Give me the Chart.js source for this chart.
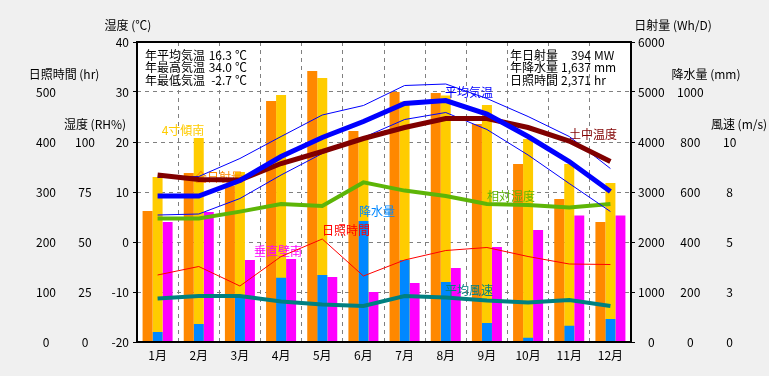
<!DOCTYPE html>
<html>
<head>
<meta charset="utf-8">
<script src="https://cdn.jsdelivr.net/npm/chart.js@4.4.1/dist/chart.umd.min.js"></script>
<style>
  body { margin: 0; background: #f0f0f0; }
  #wrap { width: 769px; height: 376px; }
</style>
</head>
<body>
<div id="wrap"><canvas id="climateChart" width="769" height="376"></canvas></div>
<script>
const months = ['1月', '2月', '3月', '4月', '5月', '6月', '7月', '8月', '9月', '10月', '11月', '12月'];

// 日射量 (Wh/D)
const solarTotal = [2620, 3380, 3130, 4820, 5420, 4220, 5000, 4980, 4360, 3560, 2860, 2400];
const solarTilt = [3300, 4080, 3400, 4940, 5280, 4100, 4810, 4930, 4740, 4060, 3560, 3180];
const solarWall = [2400, 2600, 1640, 1660, 1300, 1000, 1180, 1480, 1900, 2240, 2530, 2530];
// 降水量 (mm)
const rainfall = [40, 72, 181, 257, 268, 484, 328, 240, 76, 17, 65, 92];
// 気温 (℃)
const tempAvg = [9.2, 9.2, 12.3, 17.1, 20.9, 24.1, 27.7, 28.3, 25.6, 21.1, 16.1, 10.1];
const tempMax = [12.9, 13.1, 16.7, 21.1, 25.4, 27.3, 31.3, 31.6, 28.7, 25.1, 21.1, 14.7];
const tempMin = [5.4, 5.6, 8.7, 13.4, 17.7, 20.9, 24.5, 25.9, 22.5, 17.4, 11.7, 6.1];
const soilTemp = [13.4, 12.5, 12.4, 15.7, 18.1, 20.7, 22.9, 24.7, 24.7, 22.9, 20.2, 16.1];
// 相対湿度 (RH%)
const humidity = [61.8, 61.8, 65.2, 69, 68, 79.8, 75.7, 73, 69, 68.5, 67.3, 69];
// 日照時間 (hr)
const sunHours = [134, 151, 112, 171, 206, 132, 164, 183, 189, 171, 156, 155];
// 平均風速 (m/s)
const windSpeed = [2.18, 2.3, 2.3, 2.02, 1.88, 1.8, 2.3, 2.22, 2.07, 1.98, 2.1, 1.8];

// tick labels shown on each axis
const tempTicks = [-20, -10, 0, 10, 20, 30, 40];
const sunTicks = [0, 100, 200, 300, 400, 500];
const humidTicks = [0, 25, 50, 75, 100];
const solarTicks = [0, 1000, 2000, 3000, 4000, 5000, 6000];
const rainTicks = [0, 200, 400, 600, 800, 1000];
const windTicks = [0, 2.5, 5, 7.5, 10];

Chart.defaults.font.family = "'Noto Sans CJK JP', sans-serif";
Chart.defaults.font.size = 12;
Chart.defaults.color = '#000';

// side axis with fixed width and fixed tick list
function sideAxis(position, weight, min, max, tickList, width, opts) {
  return {
    type: 'linear',
    position: position,
    weight: weight,
    min: min,
    max: max,
    stacked: false,
    afterBuildTicks: scale => { scale.ticks = tickList.map(v => ({ value: v })); },
    afterFit: scale => { scale.width = width; },
    ticks: {
      autoSkip: false,
      crossAlign: 'center',
      padding: opts.padding,
      callback: v => String(Math.round(v))
    },
    grid: opts.grid || { display: false, drawTicks: false },
    border: { display: false }
  };
}

function lineSet(label, data, axis, color, width) {
  return {
    type: 'line',
    label: label,
    data: data,
    yAxisID: axis,
    borderColor: color,
    backgroundColor: color,
    borderWidth: width,
    pointRadius: 0,
    tension: 0,
    fill: false
  };
}

function barSet(label, data, axis, color, stack) {
  return {
    type: 'bar',
    label: label,
    data: data,
    yAxisID: axis,
    backgroundColor: color,
    borderWidth: 0,
    stack: stack,
    barPercentage: 1,
    categoryPercentage: 0.729
  };
}

const plotBackground = {
  id: 'plotBackground',
  beforeDraw(chart) {
    const { ctx, chartArea: a } = chart;
    ctx.save();
    ctx.fillStyle = '#fff';
    ctx.fillRect(a.left, a.top, a.right - a.left, a.bottom - a.top);
    ctx.restore();
  }
};

// in-plot series names, drawn over the bars but under the lines
const seriesNames = [
  ['4寸傾南', 183, 130, '#ffcc00'],
  ['全日射量', 219, 177, '#ff8800'],
  ['垂直壁南', 278, 251, '#ff00ff'],
  ['日照時間', 346, 230, '#ff0000'],
  ['降水量', 377, 211, '#0088ff'],
  ['相対湿度', 511, 196, '#5db507'],
  ['平均気温', 469, 92, '#0000ff'],
  ['土中温度', 593, 134, '#800000'],
  ['平均風速', 469, 290, '#008080']
];

const seriesLabels = {
  id: 'seriesLabels',
  afterDatasetDraw(chart, args) {
    if (args.index !== 7) return;
    const ctx = chart.ctx;
    ctx.save();
    ctx.font = "12px 'Noto Sans CJK JP'";
    ctx.textAlign = 'center';
    ctx.textBaseline = 'middle';
    seriesNames.forEach(([t, x, y, c]) => {
      ctx.fillStyle = c;
      ctx.fillText(t, x, y);
    });
    ctx.restore();
  }
};

const frameAndText = {
  id: 'frameAndText',
  afterDraw(chart) {
    const { ctx, chartArea: a } = chart;
    ctx.save();
    ctx.strokeStyle = '#000';
    ctx.lineWidth = 2;
    ctx.strokeRect(a.left, a.top, a.right - a.left, a.bottom - a.top);

    ctx.font = "12px 'Noto Sans CJK JP'";
    ctx.fillStyle = '#000';
    ctx.textBaseline = 'middle';

    // axis titles
    ctx.textAlign = 'center';
    ctx.fillText('湿度 (℃)', 128, 25);
    ctx.fillText('日照時間 (hr)', 64, 74);
    ctx.fillText('湿度 (RH%)', 95, 124);
    ctx.fillText('日射量 (Wh/D)', 673, 25);
    ctx.fillText('降水量 (mm)', 706, 74);
    ctx.fillText('風速 (m/s)', 739, 124);

    // yearly summary boxes
    const rows = [55, 67, 80];
    const left = [['年平均気温', '16.3', '℃'], ['年最高気温', '34.0', '℃'], ['年最低気温', '-2.7', '℃']];
    const right = [['年日射量', '394', 'MW'], ['年降水量', '1,637', 'mm'], ['日照時間', '2,371', 'hr']];
    left.forEach((r, i) => {
      ctx.textAlign = 'left';
      ctx.fillText(r[0], 145, rows[i]);
      ctx.textAlign = 'right';
      ctx.fillText(r[1], 232, rows[i]);
      ctx.textAlign = 'left';
      ctx.fillText(r[2], 235, rows[i]);
    });
    right.forEach((r, i) => {
      ctx.textAlign = 'left';
      ctx.fillText(r[0], 510, rows[i]);
      ctx.textAlign = 'right';
      ctx.fillText(r[1], 591, rows[i]);
      ctx.textAlign = 'left';
      ctx.fillText(r[2], 594, rows[i]);
    });
    ctx.restore();
  }
};

const ctx = document.getElementById('climateChart').getContext('2d');
new Chart(ctx, {
  type: 'bar',
  data: {
    labels: months,
    datasets: [
      lineSet('平均気温', tempAvg, 'yTemp', '#0000ff', 5),
      lineSet('土中温度', soilTemp, 'yTemp', '#800000', 5),
      lineSet('最高気温', tempMax, 'yTemp', '#0000ff', 1),
      lineSet('最低気温', tempMin, 'yTemp', '#0000ff', 1),
      lineSet('相対湿度', humidity, 'yHumid', '#5db507', 4),
      lineSet('日照時間', sunHours, 'ySun', '#ff0000', 1),
      lineSet('平均風速', windSpeed, 'yWind', '#008080', 4),
      barSet('全日射量', solarTotal, 'ySolar', '#ff8800', 'a'),
      barSet('降水量', rainfall, 'yRain', '#0088ff', 'b'),
      barSet('4寸傾南', solarTilt, 'ySolar', '#ffcc00', 'b'),
      barSet('垂直壁南', solarWall, 'ySolar', '#ff00ff', 'c')
    ]
  },
  options: {
    responsive: false,
    animation: false,
    layout: { padding: { top: 42, left: 0, right: 0, bottom: 0 } },
    plugins: { legend: { display: false }, tooltip: { enabled: false } },
    scales: {
      x: {
        offset: true,
        afterFit: scale => { scale.height = 34; },
        ticks: { padding: 6, maxRotation: 0, autoSkip: false },
        grid: { color: '#808080', offset: true, drawTicks: false },
        border: { display: false, dash: [4, 4] }
      },
      yTemp: {
        type: 'linear',
        position: 'left',
        weight: 0,
        min: -20,
        max: 40,
        stacked: false,
        afterBuildTicks: scale => { scale.ticks = tempTicks.map(v => ({ value: v })); },
        afterFit: scale => { scale.width = 37; },
        ticks: { autoSkip: false, crossAlign: 'near', padding: 4 },
        grid: { color: '#808080', tickColor: '#000', tickLength: 4, tickBorderDash: [] },
        border: { display: false, dash: [4, 4] }
      },
      yHumid: sideAxis('left', 1, 0, 150, humidTicks, 35, { padding: 5 }),
      ySun: sideAxis('left', 2, 0, 600, sunTicks, 65, { padding: 9 }),
      ySolar: sideAxis('right', 0, 0, 6000, solarTicks, 39, {
        padding: 3,
        grid: { display: true, drawOnChartArea: false, tickLength: 4, tickColor: '#000', color: '#000' }
      }),
      yRain: sideAxis('right', 1, 0, 1200, rainTicks, 40, { padding: 7 }),
      yWind: sideAxis('right', 2, 0, 15, windTicks, 59, { padding: 13 })
    }
  },
  plugins: [plotBackground, seriesLabels, frameAndText]
});
</script>
</body>
</html>
